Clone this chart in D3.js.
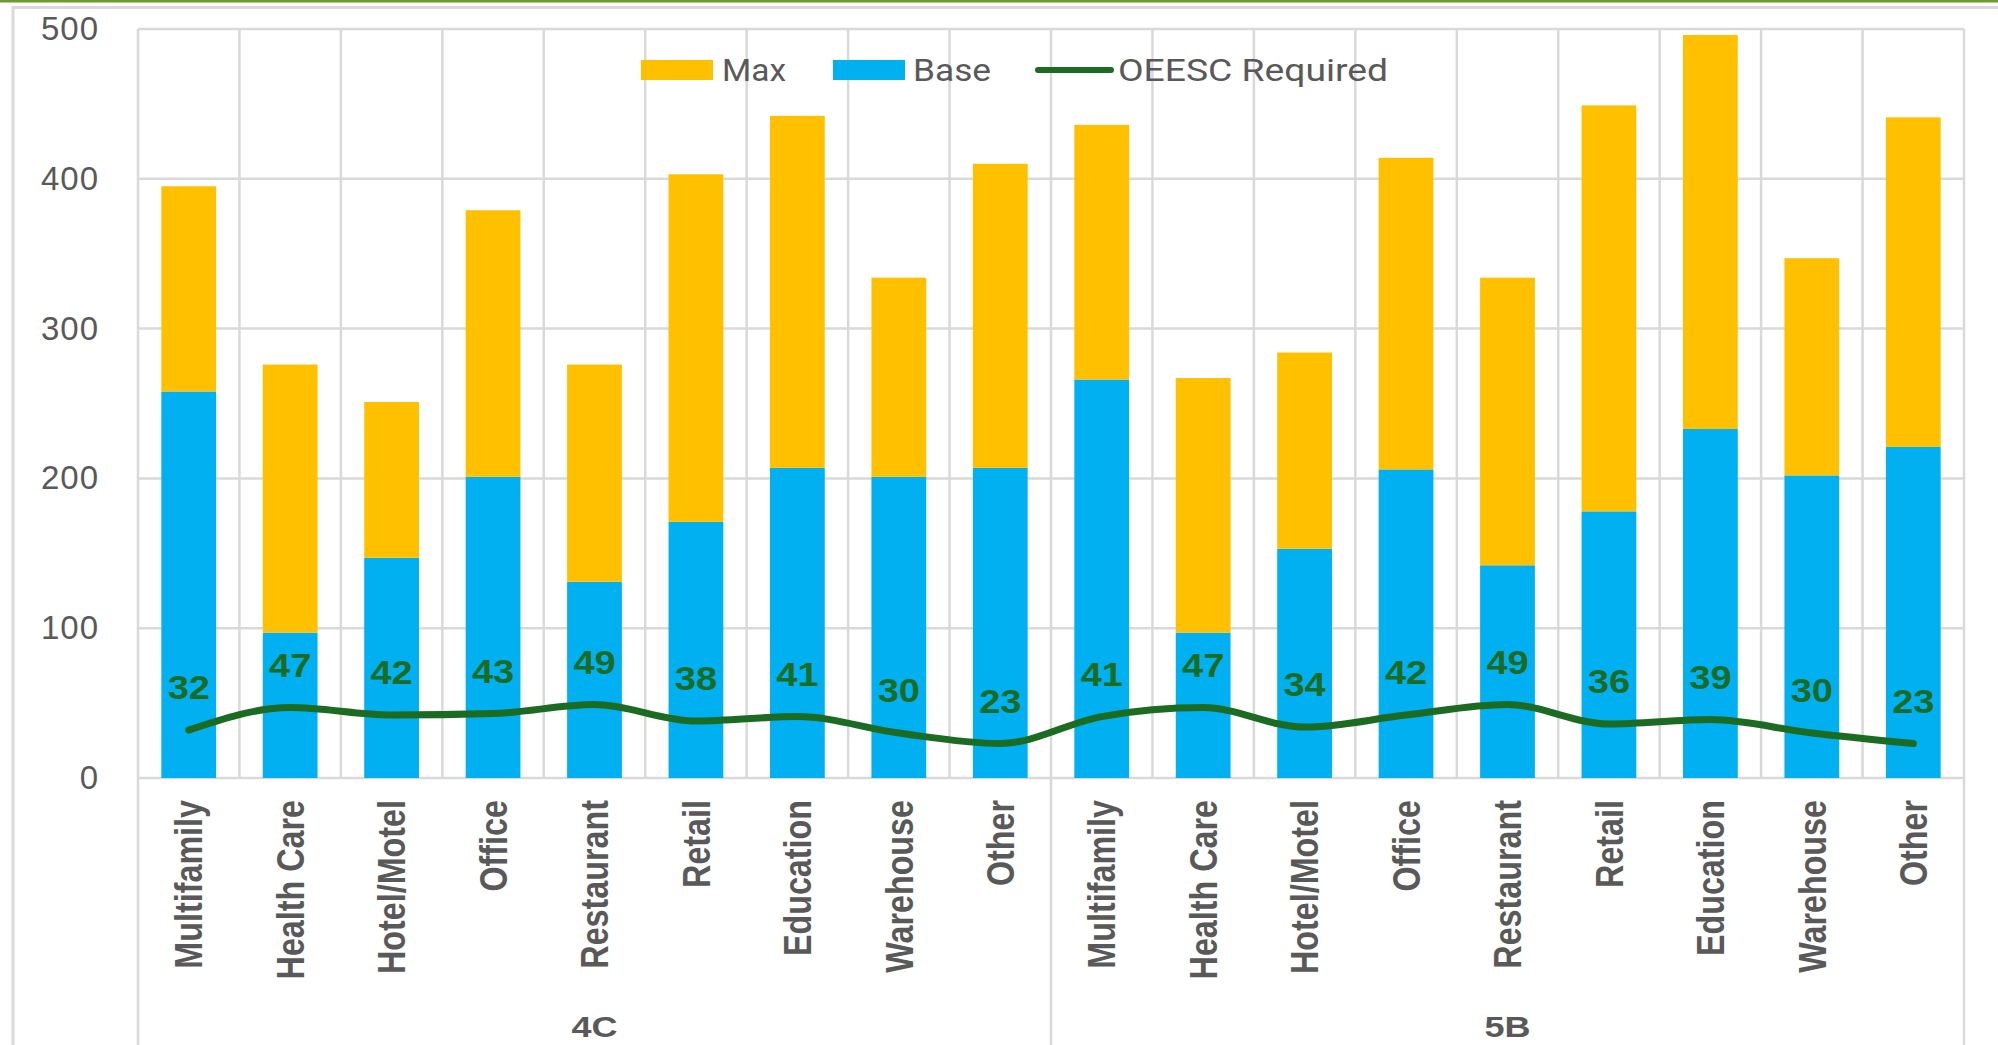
<!DOCTYPE html>
<html>
<head>
<meta charset="utf-8">
<script src="https://cdn.jsdelivr.net/npm/d3@7"></script>
<style>
  html, body { margin: 0; padding: 0; background: #fff; }
  svg { display: block; }
</style>
</head>
<body>
<div id="chart"></div>
<script>
// ── Data ────────────────────────────────────────
const groups     = ["4C", "5B"];
const categories = ["Multifamily","Health Care","Hotel/Motel","Office","Restaurant","Retail","Education","Warehouse","Other"];
// Base (blue, bottom of stack), per group in category order
const baseVals   = [258, 97, 147, 201, 131, 171, 207, 201, 207,
                    266, 97, 153, 206, 142, 178, 233, 202, 221];
// Max (yellow, stacked on top of Base)
const maxVals    = [137, 179, 104, 178, 145, 232, 235, 133, 203,
                    170, 170, 131, 208, 192, 271, 263, 145, 220];
// OEESC Required (line + labels)
const oeescVals  = [32, 47, 42, 43, 49, 38, 41, 30, 23,
                    41, 47, 34, 42, 49, 36, 39, 30, 23];
const yTicks     = [0, 100, 200, 300, 400, 500];

const W = 1998, H = 1045;
const C = { max: "#FFC000", base: "#00B0F0", line: "#1C6B22", grid: "#D9D9D9", text: "#595959" };
const plot = { left: 138, right: 1964, top: 29, bottom: 778 };

const rows = [];
groups.forEach((g, gi) => categories.forEach((c, ci) => {
  const i = gi * categories.length + ci;
  rows.push({ i, group: g, cat: c, base: baseVals[i], max: maxVals[i], req: oeescVals[i] });
}));

const svg = d3.select("#chart").append("svg").attr("width", W).attr("height", H);

// frame
svg.append("rect").attr("x", 0).attr("y", 0).attr("width", W).attr("height", 2.5).attr("fill", "#6F9A30");
svg.append("rect").attr("x", 13).attr("y", 7.5).attr("width", W + 20).attr("height", H + 20)
  .attr("fill", "none").attr("stroke", C.grid).attr("stroke-width", 3);

// ── Scales ──────────────────────────────────────
const x = d3.scaleBand().domain(rows.map(d => d.i))
  .range([plot.left, plot.right]).paddingInner(0.46).paddingOuter(0.23);
const step = (plot.right - plot.left) / rows.length;
const y = d3.scaleLinear().domain([0, 500]).range([plot.bottom, plot.top]);
const cx = i => x(i) + x.bandwidth() / 2;

// horizontal grid
svg.append("g").selectAll("line").data(yTicks).join("line")
  .attr("x1", plot.left).attr("x2", plot.right)
  .attr("y1", d => y(d)).attr("y2", d => y(d))
  .attr("stroke", C.grid).attr("stroke-width", 2.5);

// vertical grid at category boundaries
svg.append("g").selectAll("line").data(d3.range(rows.length + 1)).join("line")
  .attr("x1", d => plot.left + d * step).attr("x2", d => plot.left + d * step)
  .attr("y1", plot.top).attr("y2", plot.bottom)
  .attr("stroke", C.grid).attr("stroke-width", 2.5);

// group separators below axis
svg.append("g").selectAll("line").data(d3.range(groups.length + 1)).join("line")
  .attr("x1", d => plot.left + d * categories.length * step)
  .attr("x2", d => plot.left + d * categories.length * step)
  .attr("y1", plot.bottom).attr("y2", H)
  .attr("stroke", C.grid).attr("stroke-width", 2.5);

// ── Bars ────────────────────────────────────────
const stack = d3.stack().keys(["base", "max"])(rows);
svg.append("g").selectAll("g").data(stack).join("g")
  .attr("fill", s => C[s.key])
  .selectAll("rect").data(s => s).join("rect")
  .attr("x", d => x(d.data.i)).attr("width", x.bandwidth())
  .attr("y", d => y(d[1])).attr("height", d => y(d[0]) - y(d[1]));

// ── Line ────────────────────────────────────────
const line = d3.line().x(d => cx(d.i)).y(d => y(d.req)).curve(d3.curveMonotoneX);
svg.append("path").datum(rows).attr("d", line)
  .attr("fill", "none").attr("stroke", C.line).attr("stroke-width", 7)
  .attr("stroke-linecap", "round").attr("stroke-linejoin", "round");

svg.append("g").selectAll("text").data(rows).join("text")
  .attr("transform", d => `translate(${cx(d.i)},${y(d.req) - 31}) scale(1.15,1)`)
  .attr("text-anchor", "middle")
  .attr("font-family", "'Liberation Sans', Arial, sans-serif")
  .attr("font-weight", "bold").attr("font-size", "33px").attr("fill", C.line)
  .text(d => d.req);

// ── Y axis ──────────────────────────────────────
const yAxis = svg.append("g").attr("transform", `translate(${plot.left},0)`)
  .call(d3.axisLeft(y).tickValues(yTicks).tickSize(0).tickPadding(39));
yAxis.select(".domain").remove();
yAxis.selectAll("text").attr("font-family", "'Liberation Sans', Arial, sans-serif")
  .attr("font-size", "33px").attr("fill", C.text).attr("letter-spacing", "1px");

// ── Category labels ─────────────────────────────
svg.append("g").selectAll("text").data(rows).join("text")
  .attr("transform", d => `translate(${cx(d.i)},800) rotate(-90) scale(0.85,1)`)
  .attr("text-anchor", "end").attr("dy", "0.36em")
  .attr("font-family", "'Liberation Sans', Arial, sans-serif")
  .attr("font-weight", "bold").attr("font-size", "38px").attr("fill", C.text)
  .text(d => d.cat);

svg.append("g").selectAll("text").data(groups).join("text")
  .attr("transform", (g, gi) => `translate(${plot.left + (gi + 0.5) * categories.length * step},1037) scale(1.2,1)`)
  .attr("text-anchor", "middle")
  .attr("font-family", "'Liberation Sans', Arial, sans-serif")
  .attr("font-weight", "bold").attr("font-size", "30px").attr("fill", C.text)
  .text(g => g);

// ── Legend ──────────────────────────────────────
const legend = svg.append("g").attr("font-family", "Roboto, 'Open Sans', sans-serif")
  .attr("font-size", "32px").attr("fill", C.text);
legend.append("rect").attr("x", 641).attr("y", 60).attr("width", 72).attr("height", 20).attr("fill", C.max);
legend.append("text").attr("x", 722).attr("y", 81).attr("textLength", 64)
  .attr("lengthAdjust", "spacingAndGlyphs").text("Max");
legend.append("rect").attr("x", 833).attr("y", 60).attr("width", 72).attr("height", 20).attr("fill", C.base);
legend.append("text").attr("x", 913).attr("y", 81).attr("textLength", 78)
  .attr("lengthAdjust", "spacingAndGlyphs").text("Base");
legend.append("line").attr("x1", 1038).attr("x2", 1111).attr("y1", 70).attr("y2", 70)
  .attr("stroke", C.line).attr("stroke-width", 6).attr("stroke-linecap", "round");
legend.append("text").attr("x", 1118).attr("y", 81).attr("textLength", 270)
  .attr("lengthAdjust", "spacingAndGlyphs").text("OEESC Required");
</script>
</body>
</html>
